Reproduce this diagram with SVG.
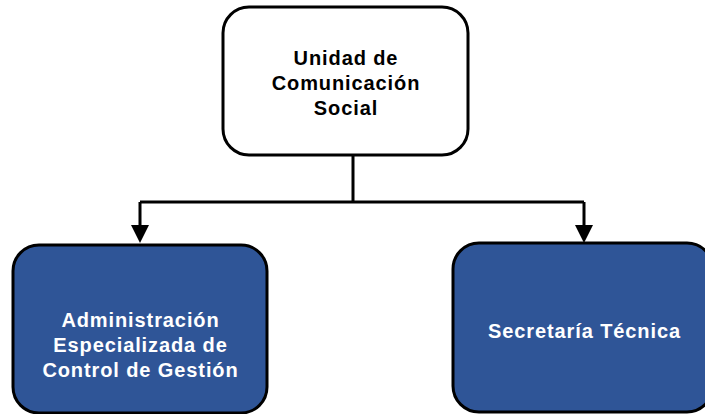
<svg xmlns="http://www.w3.org/2000/svg" width="705" height="414" viewBox="0 0 705 414">
<style>
.box{stroke:#000;stroke-width:3}
.top{fill:#fff}
.blue{fill:#2F5597}
.t{font-family:"Liberation Sans",Arial,sans-serif;font-weight:bold;font-size:20px;letter-spacing:0.9px;text-anchor:middle}
.dark{fill:#000}
.light{fill:#fff}
.conn{fill:none;stroke:#000;stroke-width:3}
.head{fill:#000}
</style>
<g id="connectors">
<path class="conn" d="M353,155 V202 M140,202 H584 M140,202 V226 M584,202 V226"/>
<polygon class="head" points="131,225 149,225 140,243"/>
<polygon class="head" points="575,225 593,225 584,243"/>
</g>
<g id="node-ucs">
<rect class="box top" x="223" y="7" width="245" height="148" rx="26"/>
<text class="t dark" x="346" y="65">Unidad de</text>
<text class="t dark" x="346" y="90">Comunicación</text>
<text class="t dark" x="346" y="115">Social</text>
</g>
<g id="node-aecg">
<rect class="box blue" x="13" y="245" width="254" height="168" rx="26"/>
<text class="t light" x="140.5" y="327">Administración</text>
<text class="t light" x="140.5" y="352">Especializada de</text>
<text class="t light" x="140.5" y="377">Control de Gestión</text>
</g>
<g id="node-st">
<rect class="box blue" x="453" y="243" width="260" height="169" rx="26"/>
<text class="t light" x="584.5" y="338">Secretaría Técnica</text>
</g>
</svg>
